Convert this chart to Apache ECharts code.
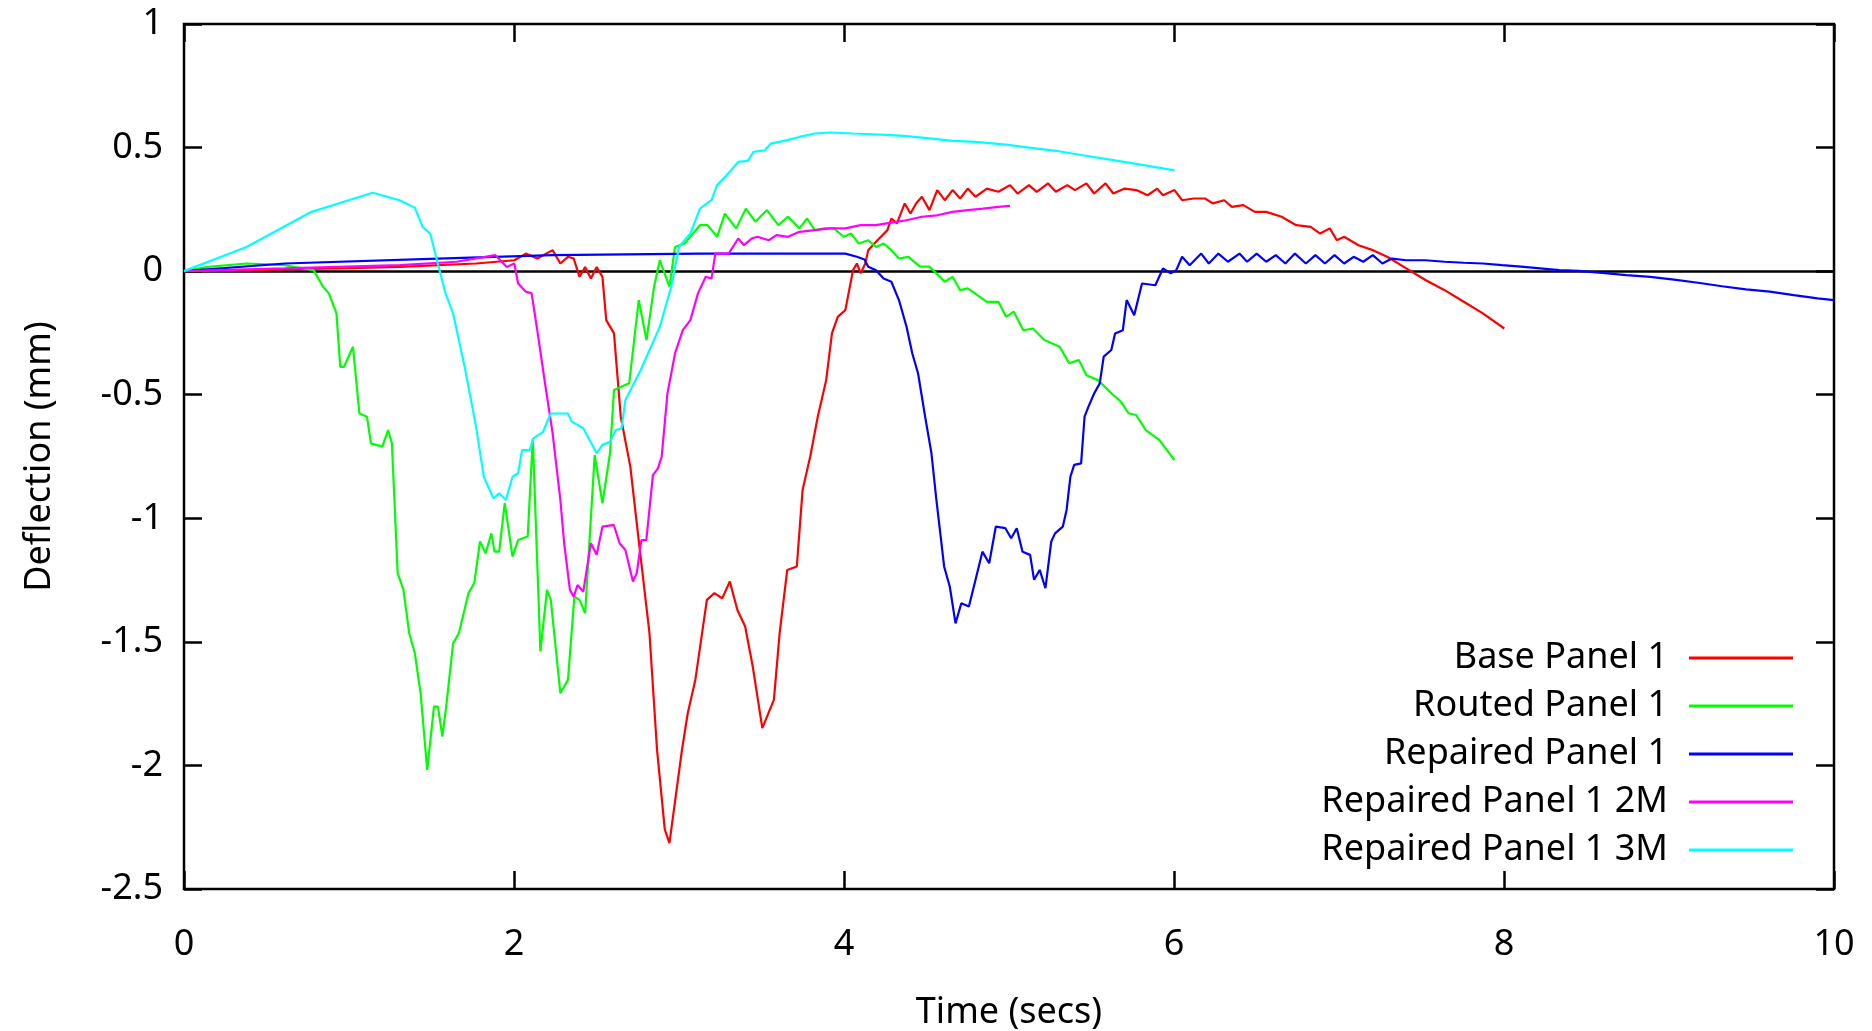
<!DOCTYPE html>
<html>
<head>
<meta charset="utf-8">
<title>Deflection vs Time</title>
<script src="https://cdn.jsdelivr.net/npm/echarts@6/dist/echarts.min.js"></script>
<style>
  html, body { margin: 0; padding: 0; background: #fff; }
  #chart { width: 1872px; height: 1031px; }
</style>
</head>
<body>
<div id="chart"></div>
<script>
// ---- Data (time in secs, deflection in mm) ----
const seriesNames = ['Base Panel 1', 'Routed Panel 1', 'Repaired Panel 1', 'Repaired Panel 1 2M', 'Repaired Panel 1 3M'];
const seriesColors = ['#ff0000', '#00ff00', '#0000ff', '#ff00ff', '#00ffff'];
const xTicks = [0, 2, 4, 6, 8, 10];
const yTicks = [-2.5, -2, -1.5, -1, -0.5, 0, 0.5, 1];

const basePanel1 = [[0,0],[0.3,0.002],[0.611,0.007],[1.0,0.012],[1.307,0.017],[1.77,0.031],[2.002,0.044],[2.072,0.071],[2.141,0.051],[2.234,0.085],[2.281,0.031],[2.327,0.058],[2.362,0.051],[2.397,-0.023],[2.431,0.017],[2.466,-0.03],[2.501,0.017],[2.536,-0.023],[2.559,-0.198],[2.606,-0.252],[2.647,-0.589],[2.705,-0.791],[2.751,-1.061],[2.821,-1.465],[2.867,-1.937],[2.914,-2.26],[2.942,-2.314],[2.972,-2.166],[3.018,-1.937],[3.053,-1.789],[3.099,-1.654],[3.169,-1.33],[3.215,-1.303],[3.262,-1.324],[3.308,-1.256],[3.354,-1.371],[3.401,-1.438],[3.447,-1.6],[3.505,-1.849],[3.575,-1.735],[3.61,-1.465],[3.656,-1.209],[3.714,-1.195],[3.749,-0.886],[3.795,-0.751],[3.841,-0.589],[3.892,-0.441],[3.927,-0.252],[3.962,-0.185],[4.008,-0.158],[4.055,0.004],[4.078,0.031],[4.101,-0.009],[4.129,0.031],[4.147,0.085],[4.194,0.119],[4.263,0.166],[4.287,0.213],[4.321,0.193],[4.368,0.274],[4.403,0.233],[4.437,0.274],[4.472,0.301],[4.518,0.247],[4.565,0.328],[4.611,0.287],[4.658,0.328],[4.704,0.294],[4.75,0.334],[4.797,0.301],[4.866,0.334],[4.936,0.321],[5.006,0.348],[5.052,0.314],[5.121,0.348],[5.168,0.321],[5.237,0.355],[5.284,0.321],[5.353,0.348],[5.4,0.328],[5.469,0.355],[5.516,0.314],[5.585,0.355],[5.632,0.314],[5.701,0.334],[5.771,0.328],[5.84,0.307],[5.898,0.334],[5.933,0.307],[6.003,0.328],[6.049,0.287],[6.119,0.294],[6.188,0.294],[6.235,0.274],[6.304,0.287],[6.351,0.26],[6.42,0.267],[6.49,0.24],[6.559,0.24],[6.652,0.22],[6.741,0.186],[6.828,0.179],[6.886,0.152],[6.944,0.173],[6.987,0.125],[7.031,0.139],[7.118,0.105],[7.205,0.085],[7.292,0.058],[7.408,0.011],[7.524,-0.036],[7.64,-0.077],[7.756,-0.124],[7.872,-0.171],[8.002,-0.232]];

const routedPanel1 = [[0,0],[0.147,0.017],[0.379,0.031],[0.611,0.024],[0.785,0.004],[0.843,-0.063],[0.878,-0.09],[0.924,-0.171],[0.947,-0.387],[0.97,-0.387],[1.024,-0.306],[1.063,-0.576],[1.109,-0.589],[1.133,-0.697],[1.202,-0.71],[1.237,-0.643],[1.26,-0.697],[1.295,-1.222],[1.33,-1.29],[1.365,-1.465],[1.399,-1.546],[1.434,-1.708],[1.474,-2.018],[1.515,-1.762],[1.539,-1.762],[1.566,-1.883],[1.589,-1.762],[1.631,-1.506],[1.666,-1.465],[1.724,-1.303],[1.759,-1.263],[1.794,-1.094],[1.828,-1.142],[1.863,-1.061],[1.882,-1.135],[1.91,-1.135],[1.944,-0.939],[1.991,-1.155],[2.025,-1.088],[2.083,-1.074],[2.114,-0.677],[2.16,-1.539],[2.2,-1.29],[2.223,-1.33],[2.281,-1.708],[2.327,-1.654],[2.366,-1.317],[2.397,-1.33],[2.431,-1.384],[2.489,-0.744],[2.536,-0.939],[2.582,-0.737],[2.606,-0.481],[2.698,-0.454],[2.733,-0.252],[2.756,-0.117],[2.803,-0.279],[2.849,-0.063],[2.884,0.044],[2.942,-0.063],[2.976,0.098],[3.034,0.112],[3.127,0.186],[3.173,0.186],[3.231,0.139],[3.278,0.233],[3.347,0.173],[3.405,0.253],[3.463,0.2],[3.533,0.247],[3.602,0.186],[3.66,0.22],[3.73,0.173],[3.776,0.213],[3.823,0.166],[3.881,0.173],[3.939,0.173],[3.997,0.139],[4.043,0.152],[4.089,0.112],[4.147,0.125],[4.194,0.098],[4.24,0.112],[4.287,0.085],[4.333,0.051],[4.391,0.058],[4.46,0.018],[4.518,0.018],[4.611,-0.043],[4.658,-0.023],[4.704,-0.077],[4.75,-0.07],[4.866,-0.124],[4.936,-0.124],[4.982,-0.185],[5.029,-0.164],[5.087,-0.239],[5.145,-0.232],[5.214,-0.279],[5.307,-0.306],[5.365,-0.373],[5.423,-0.36],[5.469,-0.421],[5.539,-0.441],[5.632,-0.501],[5.678,-0.528],[5.724,-0.575],[5.771,-0.582],[5.829,-0.643],[5.91,-0.683],[6.003,-0.764]];

const repairedPanel1 = [[0,0],[0.611,0.031],[1.539,0.051],[2.234,0.065],[3.127,0.071],[3.591,0.071],[4.008,0.071],[4.078,0.058],[4.124,0.047],[4.147,0.018],[4.194,0.004],[4.24,-0.03],[4.287,-0.043],[4.333,-0.117],[4.379,-0.225],[4.414,-0.333],[4.449,-0.414],[4.495,-0.602],[4.53,-0.737],[4.56,-0.926],[4.607,-1.196],[4.641,-1.276],[4.676,-1.425],[4.711,-1.344],[4.757,-1.357],[4.792,-1.263],[4.839,-1.135],[4.88,-1.182],[4.92,-1.034],[4.978,-1.04],[5.013,-1.081],[5.047,-1.04],[5.082,-1.135],[5.128,-1.148],[5.152,-1.249],[5.186,-1.209],[5.221,-1.283],[5.256,-1.094],[5.279,-1.061],[5.326,-1.034],[5.349,-0.966],[5.372,-0.832],[5.395,-0.784],[5.437,-0.778],[5.458,-0.589],[5.481,-0.549],[5.516,-0.495],[5.55,-0.454],[5.574,-0.346],[5.62,-0.319],[5.643,-0.252],[5.69,-0.239],[5.713,-0.117],[5.759,-0.178],[5.806,-0.05],[5.887,-0.057],[5.933,0.011],[5.98,-0.009],[6.014,0.004],[6.049,0.058],[6.095,0.024],[6.165,0.071],[6.211,0.031],[6.269,0.071],[6.327,0.038],[6.397,0.071],[6.443,0.038],[6.501,0.071],[6.559,0.038],[6.617,0.065],[6.675,0.031],[6.733,0.071],[6.799,0.031],[6.857,0.065],[6.915,0.031],[6.973,0.065],[7.031,0.031],[7.089,0.058],[7.147,0.038],[7.205,0.065],[7.263,0.031],[7.321,0.051],[7.408,0.044],[7.524,0.044],[7.64,0.038],[7.756,0.034],[7.872,0.031],[7.988,0.024],[8.103,0.018],[8.219,0.011],[8.335,0.004],[8.451,0.001],[8.596,-0.007],[8.741,-0.016],[8.886,-0.023],[9.031,-0.034],[9.176,-0.047],[9.321,-0.061],[9.466,-0.074],[9.611,-0.083],[9.756,-0.097],[9.901,-0.11],[10,-0.117]];

const repairedPanel1_2M = [[0,0],[0.611,0.011],[1.307,0.024],[1.654,0.038],[1.886,0.065],[1.956,0.017],[2.002,0.031],[2.025,-0.05],[2.072,-0.083],[2.107,-0.09],[2.141,-0.239],[2.188,-0.454],[2.234,-0.656],[2.281,-0.926],[2.304,-1.101],[2.339,-1.29],[2.362,-1.317],[2.385,-1.27],[2.42,-1.297],[2.466,-1.101],[2.501,-1.148],[2.536,-1.034],[2.605,-1.027],[2.64,-1.101],[2.675,-1.128],[2.721,-1.256],[2.744,-1.222],[2.772,-1.088],[2.802,-1.088],[2.842,-0.825],[2.872,-0.798],[2.895,-0.751],[2.93,-0.495],[2.976,-0.333],[3.023,-0.239],[3.069,-0.198],[3.115,-0.09],[3.162,-0.023],[3.197,-0.03],[3.22,0.071],[3.301,0.071],[3.359,0.132],[3.394,0.105],[3.44,0.132],[3.475,0.139],[3.544,0.125],[3.591,0.146],[3.66,0.139],[3.73,0.159],[3.823,0.166],[3.916,0.173],[4.008,0.173],[4.101,0.186],[4.194,0.186],[4.287,0.196],[4.379,0.206],[4.472,0.22],[4.565,0.226],[4.658,0.24],[4.75,0.247],[4.843,0.253],[4.936,0.26],[5.006,0.264]];

const repairedPanel1_3M = [[0,0],[0.379,0.098],[0.773,0.24],[1.051,0.298],[1.144,0.317],[1.307,0.287],[1.399,0.257],[1.446,0.179],[1.492,0.152],[1.538,0.031],[1.585,-0.09],[1.631,-0.171],[1.701,-0.387],[1.77,-0.629],[1.817,-0.832],[1.875,-0.919],[1.91,-0.899],[1.951,-0.926],[1.991,-0.832],[2.025,-0.818],[2.049,-0.724],[2.095,-0.724],[2.118,-0.677],[2.176,-0.65],[2.223,-0.576],[2.327,-0.576],[2.35,-0.609],[2.42,-0.636],[2.501,-0.737],[2.536,-0.703],[2.582,-0.69],[2.617,-0.643],[2.652,-0.636],[2.675,-0.522],[2.768,-0.4],[2.884,-0.225],[2.953,-0.063],[3.0,0.098],[3.069,0.152],[3.127,0.253],[3.197,0.287],[3.231,0.348],[3.289,0.388],[3.359,0.442],[3.417,0.446],[3.452,0.483],[3.521,0.489],[3.556,0.516],[3.637,0.527],[3.73,0.543],[3.823,0.557],[3.916,0.561],[4.055,0.557],[4.171,0.554],[4.287,0.55],[4.379,0.546],[4.518,0.537],[4.658,0.527],[4.797,0.523],[4.982,0.512],[5.121,0.5],[5.284,0.487],[5.446,0.469],[5.632,0.449],[5.817,0.429],[6.003,0.408]];

const seriesData = [basePanel1, routedPanel1, repairedPanel1, repairedPanel1_2M, repairedPanel1_3M];

// ---- Chart ----
const FONT = "'Noto Sans', 'DejaVu Sans', sans-serif";
const FS = 36;
const chart = echarts.init(document.getElementById('chart'), null, { renderer: 'canvas', width: 1872, height: 1031 });

const tickStyle = { inside: true, length: 18, lineStyle: { color: '#000', width: 2.5 } };
const legendRowTops = [640, 688, 736, 784, 832];

const series = seriesNames.map((name, i) => {
  const s = {
    type: 'line',
    name: name,
    data: seriesData[i],
    symbol: 'none',
    showSymbol: false,
    clip: true,
    lineStyle: { width: 2.2, color: seriesColors[i] },
    itemStyle: { color: seriesColors[i] },
    emphasis: { disabled: true },
    z: 2
  };
  if (i === 0) {
    s.markLine = {
      silent: true,
      z: 1,
      symbol: ['none', 'none'],
      label: { show: false },
      lineStyle: { color: '#000', width: 2.5, type: 'solid' },
      data: [{ yAxis: 0 }],
      animation: false
    };
  }
  return s;
});

const legends = seriesNames.map((name, i) => ({
  data: [name],
  right: 79,
  top: legendRowTops[i],
  orient: 'horizontal',
  align: 'right',
  icon: 'rect',
  itemWidth: 104,
  itemHeight: 3,
  padding: 0,
  selectedMode: false,
  itemStyle: { borderWidth: 0 },
  textStyle: { fontSize: FS, color: '#000', fontFamily: FONT, padding: [4, 16, 0, 0] }
}));

chart.setOption({
  animation: false,
  backgroundColor: '#ffffff',
  textStyle: { fontFamily: FONT },
  grid: { left: 184, right: 38, top: 24, bottom: 142, show: true, borderColor: '#000', borderWidth: 2.5, backgroundColor: 'transparent', containLabel: false, outerBoundsMode: 'none' },
  legend: legends,
  xAxis: [
    {
      type: 'value', min: xTicks[0], max: xTicks[xTicks.length - 1], interval: 2, position: 'bottom',
      axisLine: { show: false, onZero: false },
      axisTick: tickStyle,
      axisLabel: { margin: 38, color: '#000', fontSize: FS, fontFamily: FONT },
      splitLine: { show: false },
      name: 'Time (secs)', nameLocation: 'middle', nameGap: 106,
      nameTextStyle: { fontSize: FS, color: '#000', fontFamily: FONT }
    },
    {
      type: 'value', min: xTicks[0], max: xTicks[xTicks.length - 1], interval: 2, position: 'top',
      axisLine: { show: false, onZero: false },
      axisTick: tickStyle,
      axisLabel: { show: false },
      splitLine: { show: false }
    }
  ],
  yAxis: [
    {
      type: 'value', min: yTicks[0], max: yTicks[yTicks.length - 1], interval: 0.5, position: 'left',
      axisLine: { show: false, onZero: false },
      axisTick: tickStyle,
      axisLabel: { margin: 21, color: '#000', fontSize: FS, fontFamily: FONT },
      splitLine: { show: false },
      name: 'Deflection (mm)', nameLocation: 'middle', nameGap: 126,
      nameTextStyle: { fontSize: FS, color: '#000', fontFamily: FONT }
    },
    {
      type: 'value', min: yTicks[0], max: yTicks[yTicks.length - 1], interval: 0.5, position: 'right',
      axisLine: { show: false, onZero: false },
      axisTick: tickStyle,
      axisLabel: { show: false },
      splitLine: { show: false }
    }
  ],
  series: series
});
</script>
</body>
</html>
